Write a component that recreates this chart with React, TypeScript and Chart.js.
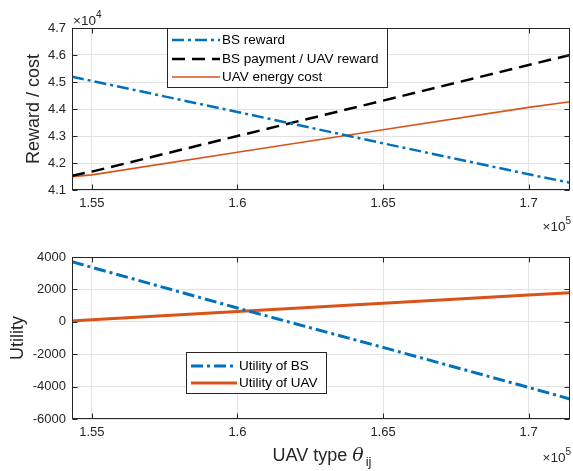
import React, { useEffect, useRef } from "react";
import { Chart, registerables } from "chart.js";
Chart.register(...registerables);

// ---- data ----
const theta = [154320, 155000, 160000, 165000, 170000, 171420];
const bsReward = [45200, 45040, 43890, 42730, 41580, 41270];
const bsPayment = [41530, 41680, 43000, 44310, 45630, 46000];
const uavCost = [41490, 41560, 42400, 43230, 44060, 44270];
const utilBS = [3710, 3360, 850, -1580, -4050, -4765];
const utilUAV = [50, 120, 630, 1140, 1650, 1796];

const xTicks = [155000, 160000, 165000, 170000];
const topYTicks = [41000, 42000, 43000, 44000, 45000, 46000, 47000];
const bottomYTicks = [-6000, -4000, -2000, 0, 2000, 4000];

const topLabels = ["BS reward", "BS payment / UAV reward", "UAV energy cost"];
const bottomLabels = ["Utility of BS", "Utility of UAV"];

const FONT = "'Liberation Sans', Arial, Helvetica, sans-serif";
const AX = "#262626";
const GRID = "#e3e3e3";
const BLUE = "#0072BD";
const ORANGE = "#D95319";

const matlabPlugin = {
  id: "matlabAxes",
  afterDatasetsDraw(chart: any, _args: any, opts: any) {
    const ctx = chart.ctx;
    const ca = chart.chartArea;
    const xs = chart.scales.x;
    const ys = chart.scales.y;
    ctx.save();
    // box
    ctx.strokeStyle = AX;
    ctx.lineWidth = 1;
    ctx.setLineDash([]);
    const L = Math.round(ca.left) + 0.5, R = Math.round(ca.right) - 0.5;
    const T = Math.round(ca.top) + 0.5, B = Math.round(ca.bottom) - 0.5;
    ctx.strokeRect(L, T, R - L, B - T);
    // inward ticks
    const tl = 5;
    ctx.beginPath();
    for (const t of xs.ticks) {
      const px = Math.round(xs.getPixelForValue(t.value)) + 0.5;
      ctx.moveTo(px, B); ctx.lineTo(px, B - tl);
      ctx.moveTo(px, T); ctx.lineTo(px, T + tl);
    }
    for (const t of ys.ticks) {
      const py = Math.round(ys.getPixelForValue(t.value)) + 0.5;
      ctx.moveTo(L, py); ctx.lineTo(L + tl, py);
      ctx.moveTo(R, py); ctx.lineTo(R - tl, py);
    }
    ctx.stroke();

    ctx.fillStyle = AX;
    // y exponent
    if (opts.yExp) {
      ctx.font = `13.5px ${FONT}`;
      ctx.textAlign = "left";
      ctx.textBaseline = "alphabetic";
      ctx.fillText("\u00d710", ca.left + 1, ca.top - 3);
      const w = ctx.measureText("\u00d710").width;
      ctx.font = `10px ${FONT}`;
      ctx.fillText(opts.yExp, ca.left + 1 + w, ca.top - 10);
    }
    // x exponent
    if (opts.xExp) {
      ctx.font = `13.5px ${FONT}`;
      const w1 = ctx.measureText("\u00d710").width;
      ctx.font = `10px ${FONT}`;
      const w2 = ctx.measureText(opts.xExp).width;
      const x0 = ca.right - w1 - w2 + 1;
      ctx.font = `13.5px ${FONT}`;
      ctx.textAlign = "left";
      ctx.textBaseline = "alphabetic";
      ctx.fillText("\u00d710", x0, ca.bottom + opts.xExpDy);
      ctx.font = `10px ${FONT}`;
      ctx.fillText(opts.xExp, x0 + w1, ca.bottom + opts.xExpDy - 7);
    }
    // y title
    if (opts.yTitle) {
      ctx.save();
      ctx.font = `18px ${FONT}`;
      ctx.textAlign = "center";
      ctx.textBaseline = "middle";
      ctx.translate(opts.yTitleX, (ca.top + ca.bottom) / 2);
      ctx.rotate(-Math.PI / 2);
      ctx.fillText(opts.yTitle, 0, 0);
      ctx.restore();
    }
    // x title
    if (opts.xTitle) {
      ctx.textBaseline = "alphabetic";
      ctx.textAlign = "left";
      ctx.font = `18px ${FONT}`;
      const a = "UAV type ";
      const wa = ctx.measureText(a).width;
      ctx.font = `italic 19px 'DejaVu Serif', 'Liberation Serif', serif`;
      const wb = ctx.measureText("\u03b8").width;
      ctx.font = `13px ${FONT}`;
      const wc = ctx.measureText("ij").width;
      const total = wa + wb + 2 + wc;
      const cx = (ca.left + ca.right) / 2 + 1;
      let x = cx - total / 2;
      const y = ca.bottom + 42;
      ctx.font = `18px ${FONT}`;
      ctx.fillText(a, x, y);
      x += wa;
      ctx.font = `italic 19px 'DejaVu Serif', 'Liberation Serif', serif`;
      ctx.fillText("\u03b8", x, y);
      x += wb + 2;
      ctx.font = `13px ${FONT}`;
      ctx.fillText("ij", x, y + 5);
    }
    // legend
    const lg = opts.legend;
    if (lg) {
      ctx.fillStyle = "#ffffff";
      ctx.fillRect(lg.x, lg.y, lg.w, lg.h);
      ctx.strokeStyle = AX;
      ctx.lineWidth = 1;
      ctx.setLineDash([]);
      ctx.strokeRect(lg.x + 0.5, lg.y + 0.5, lg.w, lg.h);
      chart.data.datasets.forEach((ds: any, i: number) => {
        const yy = lg.y + lg.rowY[i];
        ctx.strokeStyle = ds.borderColor;
        ctx.lineWidth = ds.borderWidth;
        ctx.setLineDash(ds.borderDash || []);
        ctx.beginPath();
        ctx.moveTo(lg.x + 5, yy);
        ctx.lineTo(lg.x + 5 + lg.sample, yy);
        ctx.stroke();
        ctx.setLineDash([]);
        ctx.fillStyle = "#000000";
        ctx.font = `13.5px ${FONT}`;
        ctx.textAlign = "left";
        ctx.textBaseline = "middle";
        ctx.fillText(ds.label, lg.x + 5 + lg.sample + 2, yy + 0.5);
      });
    }
    ctx.restore();
  },
};

function makeConfig(
  datasets: any[],
  yMin: number,
  yMax: number,
  yTicks: number[],
  yFmt: (v: number) => string,
  padTop: number,
  xHeight: number,
  plugin: any
) {
  return {
    type: "line",
    data: {
      datasets: datasets.map((d) => ({
        ...d,
        data: theta.map((t, i) => ({ x: t, y: d.values[i] })),
        pointRadius: 0,
        tension: 0,
        fill: false,
        clip: 0,
      })),
    },
    options: {
      animation: false,
      responsive: false,
      devicePixelRatio: 1,
      layout: { padding: { top: padTop, right: 3, left: 0, bottom: 0 } },
      plugins: {
        legend: { display: false },
        tooltip: { enabled: false },
        matlabAxes: plugin,
      },
      scales: {
        x: {
          type: "linear",
          min: 154320,
          max: 171420,
          afterBuildTicks: (s: any) => {
            s.ticks = xTicks.map((v) => ({ value: v }));
          },
          afterFit: (s: any) => {
            s.height = xHeight;
          },
          ticks: {
            callback: (v: any) => String(Number((v / 1e5).toFixed(2))),
            font: { family: FONT, size: 13 },
            color: AX,
            padding: 6,
            maxRotation: 0,
            autoSkip: false,
          },
          grid: { color: GRID, drawTicks: false, lineWidth: 1 },
          border: { display: false },
        },
        y: {
          type: "linear",
          min: yMin,
          max: yMax,
          afterBuildTicks: (s: any) => {
            s.ticks = yTicks.map((v) => ({ value: v }));
          },
          afterFit: (s: any) => {
            s.width = 72;
          },
          ticks: {
            callback: (v: any) => yFmt(v),
            font: { family: FONT, size: 13 },
            color: AX,
            padding: 6,
            autoSkip: false,
          },
          grid: { color: GRID, drawTicks: false, lineWidth: 1 },
          border: { display: false },
        },
      },
    },
    plugins: [matlabPlugin],
  } as any;
}

export default function App() {
  const topRef = useRef<HTMLCanvasElement>(null);
  const botRef = useRef<HTMLCanvasElement>(null);

  useEffect(() => {
    const top = new Chart(
      topRef.current as HTMLCanvasElement,
      makeConfig(
        [
          { label: topLabels[0], values: bsReward, borderColor: BLUE, borderWidth: 2.5, borderDash: [12, 4, 3, 4] },
          { label: topLabels[1], values: bsPayment, borderColor: "#000000", borderWidth: 2.5, borderDash: [13, 7] },
          { label: topLabels[2], values: uavCost, borderColor: ORANGE, borderWidth: 1.6 },
        ],
        41000,
        47000,
        topYTicks,
        (v) => (v / 1e4).toFixed(1),
        28,
        45,
        {
          yExp: "4",
          xExp: "5",
          xExpDy: 41,
          yTitle: "Reward / cost",
          yTitleX: 34,
          legend: { x: 167, y: 28, w: 220, h: 59, rowY: [12, 31, 49], sample: 48 },
        }
      )
    );
    const bot = new Chart(
      botRef.current as HTMLCanvasElement,
      makeConfig(
        [
          { label: bottomLabels[0], values: utilBS, borderColor: BLUE, borderWidth: 3, borderDash: [12, 4, 3, 4] },
          { label: bottomLabels[1], values: utilUAV, borderColor: ORANGE, borderWidth: 3 },
        ],
        -6000,
        4000,
        bottomYTicks,
        (v) => String(v),
        22,
        52,
        {
          xExp: "5",
          xExpDy: 43,
          yTitle: "Utility",
          yTitleX: 18,
          xTitle: true,
          legend: { x: 186, y: 117, w: 140, h: 41, rowY: [14, 31], sample: 46 },
        }
      )
    );
    return () => {
      top.destroy();
      bot.destroy();
    };
  }, []);

  return (
    <div style={{ position: "absolute", left: 0, top: 0, width: 573, height: 471, background: "#fff" }}>
      <canvas ref={topRef} width={573} height={235} style={{ display: "block", width: 573, height: 235 }} />
      <canvas ref={botRef} width={573} height={236} style={{ display: "block", width: 573, height: 236 }} />
    </div>
  );
}
